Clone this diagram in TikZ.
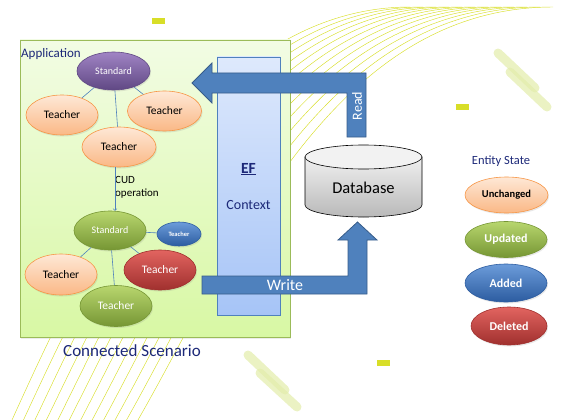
\documentclass[tikz,border=0pt]{standalone}
\usepackage{fontspec}
\setmainfont{Carlito}
\usetikzlibrary{shapes.geometric,shadows}

% Couleurs
\definecolor{jaune}{RGB}{216,222,40}
\definecolor{pale}{RGB}{226,236,170}
\definecolor{appH}{RGB}{242,252,228}
\definecolor{appB}{RGB}{216,248,164}
\definecolor{appBord}{RGB}{155,187,89}
\definecolor{efH}{RGB}{222,233,252}
\definecolor{efB}{RGB}{166,196,247}
\definecolor{efBord}{RGB}{79,129,189}
\definecolor{bleunuit}{RGB}{28,40,120}
\definecolor{lien}{RGB}{79,129,189}
\definecolor{flecheF}{RGB}{79,129,189}
\definecolor{flecheB}{RGB}{56,93,138}
\definecolor{pecheH}{RGB}{254,232,214}
\definecolor{pecheB}{RGB}{250,184,134}
\definecolor{orangeBord}{RGB}{247,150,70}
\definecolor{violetH}{RGB}{160,132,196}
\definecolor{violetB}{RGB}{96,72,132}
\definecolor{vertH}{RGB}{184,214,110}
\definecolor{vertB}{RGB}{118,150,52}
\definecolor{bleuH}{RGB}{108,156,218}
\definecolor{bleuB}{RGB}{44,92,160}
\definecolor{rougeH}{RGB}{226,100,96}
\definecolor{rougeB}{RGB}{160,48,46}

\tikzset{
  ovale/.style={ellipse, inner sep=0pt, line width=0.6pt,
    drop shadow={opacity=0.18, shadow xshift=1pt, shadow yshift=-1.5pt}},
  peche/.style={ovale, draw=orangeBord, top color=pecheH, bottom color=pecheB, text=black},
  violet/.style={ovale, draw=violetB, top color=violetH, bottom color=violetB, text=white},
  vert/.style={ovale, draw=vertB, top color=vertH, bottom color=vertB, text=white},
  bleu/.style={ovale, draw=bleuB, top color=bleuH, bottom color=bleuB, text=white},
  rouge/.style={ovale, draw=rougeB, top color=rougeH, bottom color=rougeB, text=white},
  lienbleu/.style={draw=lien, line width=0.6pt},
  fleche/.style={fill=flecheF, draw=flecheB, line width=0.8pt},
  prof/.style={font=\fontsize{11.5}{13}\selectfont},
}

\begin{document}
\begin{tikzpicture}[x=1pt,y=-1pt]
  \useasboundingbox (0,0) rectangle (570,420);

  % Courbes jaunes en arrière-plan
  \foreach \k in {0,...,11}{
    \pgfmathsetmacro\ax{12+11.45*\k}
    \pgfmathsetmacro\bx{80+13.64*\k}
    \pgfmathsetmacro\by{270-0.91*\k}
    \pgfmathsetmacro\cx{200+11.82*\k}
    \pgfmathsetmacro\dx{410+13*\k}
    \draw[jaune, line width=0.45pt] (\ax,420) .. controls (\bx,\by) and (\cx,7) .. (\dx,7);
  }

  % Petits rectangles et traits décoratifs
  \fill[jaune] (152,18) rectangle (165,24);
  \fill[jaune] (456,104) rectangle (469,110);
  \fill[jaune] (377,360) rectangle (390,366);
  \draw[pale, opacity=0.7, line width=9pt, line cap=round] (498,53) -- (535,88);
  \draw[pale, opacity=0.7, line width=9pt, line cap=round] (510,72) -- (547,107);
  \draw[pale, opacity=0.7, line width=9pt, line cap=round] (248,355) -- (285,390);
  \draw[pale, opacity=0.7, line width=9pt, line cap=round] (260,373) -- (297,407);

  % Cadre de l'application
  \shade[top color=appH, bottom color=appB, draw=appBord, line width=0.8pt,
    drop shadow={opacity=0.15, shadow xshift=1pt, shadow yshift=-2pt}] (20,40) rectangle (290,337);
  \node[anchor=base west, inner sep=0, text=bleunuit, font=\fontsize{13}{15}\selectfont] (appli) at (21,58) {Application};
  \node[anchor=base, inner sep=0, text=bleunuit, font=\fontsize{17}{20}\selectfont] (scen) at (132,356) {Connected Scenario};

  % Contexte EF
  \shade[top color=efH, bottom color=efB, draw=efBord, line width=0.8pt] (217,57) rectangle (280,315);
  \node[text=bleunuit, font=\fontsize{15.5}{18}\selectfont] (ef) at (248.5,169) {\underline{\textbf{EF}}};
  \node[text=bleunuit, font=\fontsize{14}{16}\selectfont] (ctx) at (248.5,205) {Context};

  % Avant l'opération
  \node[violet, minimum width=73pt, minimum height=38pt, font=\fontsize{10}{11}\selectfont] (std1) at (113.5,71) {Standard};
  \node[peche, prof, minimum width=72pt, minimum height=40pt] (t1) at (62,115) {Teacher};
  \node[peche, prof, minimum width=74pt, minimum height=40pt] (t2) at (164.5,111) {Teacher};
  \node[peche, prof, minimum width=74pt, minimum height=40pt] (t3) at (119,147) {Teacher};
  \draw[lienbleu] (std1) -- (t1);
  \draw[lienbleu] (std1) -- (t2);
  \draw[lienbleu] (std1) -- (t3);

  % Après l'opération
  \node[vert, minimum width=72pt, minimum height=39pt, font=\fontsize{10}{11}\selectfont] (std2) at (110,230.5) {Standard};
  \node[bleu, minimum width=44pt, minimum height=24pt, font=\fontsize{6.5}{7}\selectfont\bfseries] (t4) at (179,234) {Teacher};
  \node[peche, prof, minimum width=72pt, minimum height=41pt] (t5) at (61,274.5) {Teacher};
  \node[rouge, prof, minimum width=72pt, minimum height=40pt] (t6) at (160,270) {Teacher};
  \node[vert, prof, minimum width=72pt, minimum height=41pt] (t7) at (116,306) {Teacher};
  \draw[lienbleu] (std2) -- (t4);
  \draw[lienbleu] (std2) -- (t5);
  \draw[lienbleu] (std2) -- (t6);
  \draw[lienbleu] (std2) -- (t7);

  % Opération CUD
  \node[anchor=north west, align=left, inner sep=0, font=\fontsize{11}{13}\selectfont] (cud) at (115,176) {CUD\\operation};
  \draw[lienbleu,->] (t3.south -| cud.west) -- (std2.north -| cud.west);

  % Base de données
  \shade[top color=gray!12, bottom color=gray!55, draw=black, line width=0.6pt]
    (305,157) -- (305,205) arc[start angle=180, end angle=0, x radius=58.5, y radius=12] -- (422,157) -- cycle;
  \filldraw[fill=gray!10, draw=black, line width=0.6pt] (363.5,157) ellipse [x radius=58.5, y radius=12];
  \node[font=\fontsize{16.5}{19}\selectfont] (bd) at (363.5,188) {Database};

  % Flèche Read
  \filldraw[fleche] (347,137) -- (347,93) -- (212,93) -- (212,103) -- (192,83) -- (212,63)
    -- (212,73) -- (366,73) -- (366,137) -- cycle;
  \node[rotate=90, text=white, font=\fontsize{14}{16}\selectfont] (lire) at (357,106) {Read};

  % Flèche Write
  \filldraw[fleche] (202,276) -- (348,276) -- (348,240) -- (338,240) -- (357.5,222) -- (377,240)
    -- (367,240) -- (367,294) -- (202,294) -- cycle;
  \node[text=white, font=\fontsize{16}{18}\selectfont] (ecrire) at (285,285) {Write};

  % Légende des états
  \node[text=bleunuit, font=\fontsize{12.5}{14}\selectfont] (etat) at (501,161) {Entity State};
  \node[peche, minimum width=83pt, minimum height=36pt, font=\fontsize{10.5}{12}\selectfont\bfseries] (inchange) at (506.5,195) {Unchanged};
  \node[vert, minimum width=82pt, minimum height=36pt, font=\fontsize{12}{14}\selectfont\bfseries] (modif) at (506,239.5) {Updated};
  \node[bleu, minimum width=82pt, minimum height=38pt, font=\fontsize{12}{14}\selectfont\bfseries] (ajout) at (506,283) {Added};
  \node[rouge, minimum width=76pt, minimum height=38pt, font=\fontsize{12}{14}\selectfont\bfseries] (suppr) at (509,326) {Deleted};
\end{tikzpicture}
\end{document}
